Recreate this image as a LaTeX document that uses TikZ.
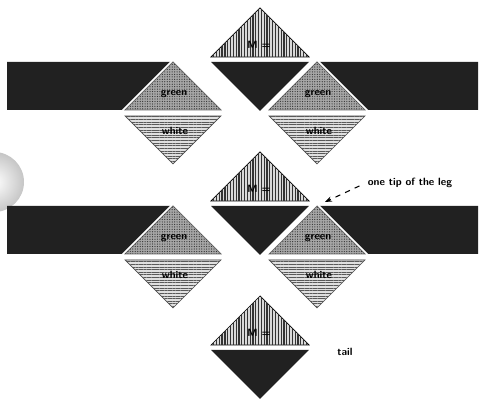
\documentclass[tikz,border=0pt]{standalone}
\usetikzlibrary{patterns.meta,arrows.meta}
\begin{document}
\begin{tikzpicture}[x=0.02cm,y=-0.02cm,
    bar/.style={fill=black!87},
    gap/.style={preaction={draw=white,line width=2.6pt,line join=miter}},
    headpart/.style={gap,fill=gray!30,postaction={pattern={Lines[angle=90,distance=1.6pt,line width=0.7pt]},pattern color=black!80},draw=black,thin},
    darkpart/.style={gap,fill=black!87},
    toppart/.style={gap,fill=gray!70,postaction={pattern={Dots[distance=1.4pt,radius=0.35pt]},pattern color=black!80},draw=black!60,thin},
    lowpart/.style={gap,fill=gray!25,postaction={pattern={Lines[angle=0,distance=1.5pt,line width=0.45pt]},pattern color=black!65},draw=black!70,thin},
    intext/.style={font=\sffamily\bfseries\fontsize{6}{7}\selectfont,inner sep=0.5pt},
    tag/.style={font=\sffamily\bfseries\fontsize{6}{7}\selectfont,inner sep=1pt}]
    \useasboundingbox (0,0) rectangle (480,404);
    % scanned ball at the left edge
    \begin{scope}
        \clip (0,0) rectangle (480,404);
        \shade[inner color=white,outer color=gray!45] (-6,182) circle (30);
    \end{scope}
    % two rows with legs
    \foreach \oy in {0,144} {
        % bars
        \fill[bar] (7,62+\oy) -- (173,62+\oy) -- (125,110+\oy) -- (7,110+\oy) -- cycle;
        \fill[bar] (317,62+\oy) -- (478,62+\oy) -- (478,110+\oy) -- (365,110+\oy) -- cycle;
        % head
        \path[headpart] (211,57+\oy) -- (260,8+\oy) -- (309,57+\oy) -- cycle;
        \node[intext] (m\oy) at (259,45+\oy) {M =};
        \path[darkpart] (211,62+\oy) -- (309,62+\oy) -- (260,111+\oy) -- cycle;
        % left leg
        \path[toppart] (125,110+\oy) -- (173,62+\oy) -- (221,110+\oy) -- cycle;
        \path[lowpart] (125,116+\oy) -- (221,116+\oy) -- (173,164+\oy) -- cycle;
        \node[intext] (lg\oy) at (174,94+\oy) {green};
        \node[intext] (lw\oy) at (175,131+\oy) {white};
        % right leg
        \path[toppart] (269,110+\oy) -- (317,62+\oy) -- (365,110+\oy) -- cycle;
        \path[lowpart] (269,116+\oy) -- (365,116+\oy) -- (317,164+\oy) -- cycle;
        \node[intext] (rg\oy) at (318,94+\oy) {green};
        \node[intext] (rw\oy) at (319,131+\oy) {white};
    }
    % tail
    \path[headpart] (211,345) -- (260,296) -- (309,345) -- cycle;
    \node[intext] (mtail) at (259,333) {M =};
    \path[darkpart] (211,350) -- (309,350) -- (260,399) -- cycle;
    % labels
    \node[tag] (tiplabel) at (410,183) {one tip of the leg};
    \coordinate (legtip) at (325,202);
    \draw[dashed,semithick,-{Stealth[length=4pt]},shorten <=4pt] (tiplabel.west) -- (legtip);
    \node[tag] (taillabel) at (345,352) {tail};
\end{tikzpicture}
\end{document}
